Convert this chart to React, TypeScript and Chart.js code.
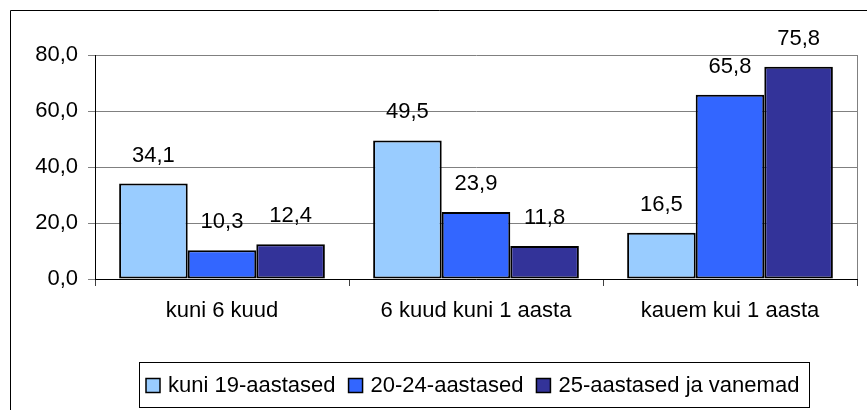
import React, { useEffect, useRef } from "react";
import { Chart, registerables } from "chart.js";

Chart.register(...registerables);

const categories = ["kuni 6 kuud", "6 kuud kuni 1 aasta", "kauem kui 1 aasta"];
const seriesNames = ["kuni 19-aastased", "20-24-aastased", "25-aastased ja vanemad"];
const seriesColors = ["#99CCFF", "#3366FF", "#333399"];
const under19 = [34.1, 49.5, 16.5];
const age20to24 = [10.3, 23.9, 65.8];
const age25plus = [12.4, 11.8, 75.8];
const yTicks = [0, 20, 40, 60, 80];

const FONT = "'Liberation Sans', Arial, sans-serif";
const FS = 22;
const fmt = (v: number) => v.toFixed(1).replace(".", ",");

const framePlugin = {
  id: "frame",
  beforeDraw(chart: any) {
    const ctx = chart.ctx;
    ctx.save();
    ctx.strokeStyle = "#000";
    ctx.lineWidth = 1;
    ctx.beginPath();
    ctx.moveTo(10.5, chart.height + 5);
    ctx.lineTo(10.5, 10.5);
    ctx.lineTo(chart.width + 5, 10.5);
    ctx.stroke();
    ctx.restore();
  },
  afterDraw(chart: any) {
    const ctx = chart.ctx;
    const a = chart.chartArea;
    ctx.save();
    ctx.strokeStyle = "#808080";
    ctx.lineWidth = 1;
    ctx.beginPath();
    ctx.moveTo(Math.round(a.right) + 0.5, a.top);
    ctx.lineTo(Math.round(a.right) + 0.5, a.bottom);
    ctx.stroke();

    // data labels
    ctx.fillStyle = "#000";
    ctx.font = `${FS}px ${FONT}`;
    ctx.textAlign = "center";
    ctx.textBaseline = "alphabetic";
    chart.data.datasets.forEach((ds: any, di: number) => {
      const meta = chart.getDatasetMeta(di);
      meta.data.forEach((el: any, i: number) => {
        ctx.fillText(fmt(ds.data[i]), el.x, el.y - 22);
      });
    });

    // legend
    const sq = 14, gapT = 8, gapItem = 13, padL = 7, padR = 10;
    const widths = chart.data.datasets.map((d: any) => ctx.measureText(d.label).width);
    let total = 0;
    widths.forEach((w: number, i: number) => {
      total += sq + gapT + w + (i < widths.length - 1 ? gapItem : 0);
    });
    const boxW = Math.round(total + padL + padR);
    const cx = 474;
    const bx = Math.round(cx - boxW / 2);
    const by = 362;
    const bh = 45;
    ctx.strokeStyle = "#000";
    ctx.lineWidth = 1;
    ctx.strokeRect(bx + 0.5, by + 0.5, boxW, bh);
    let x = bx + padL;
    const my = by + bh / 2 + 1;
    ctx.textAlign = "left";
    ctx.textBaseline = "middle";
    chart.data.datasets.forEach((d: any, i: number) => {
      ctx.fillStyle = d.backgroundColor;
      ctx.fillRect(x, my - sq / 2, sq, sq);
      ctx.strokeStyle = "#000";
      ctx.lineWidth = 1.5;
      ctx.strokeRect(x, my - sq / 2, sq, sq);
      x += sq + gapT;
      ctx.fillStyle = "#000";
      ctx.fillText(d.label, x, my);
      x += widths[i] + gapItem;
    });
    ctx.restore();
  },
};

export default function App() {
  const ref = useRef<HTMLCanvasElement>(null);
  useEffect(() => {
    document.body.style.margin = "0";
    const values = [under19, age20to24, age25plus];
    const chart = new Chart(ref.current!, {
      type: "bar",
      data: {
        labels: categories,
        datasets: seriesNames.map((n, i) => ({
          label: n,
          data: values[i],
          backgroundColor: seriesColors[i],
          borderColor: "#000",
          borderWidth: 2,
          borderSkipped: false,
          categoryPercentage: 0.81,
          barPercentage: 1,
        })),
      },
      options: {
        responsive: false,
        animation: false,
        layout: { padding: { top: 55, right: 10, left: 0, bottom: 0 } },
        plugins: { legend: { display: false }, tooltip: { enabled: false } },
        scales: {
          x: {
            offset: true,
            grid: {
              display: true,
              drawOnChartArea: false,
              offset: true,
              tickLength: 7,
              tickColor: "#404040",
            },
            border: { display: true, color: "#000", width: 1 },
            ticks: { color: "#000", font: { family: FONT, size: FS }, padding: 12, maxRotation: 0 },
            afterFit: (s: any) => {
              s.height = 131;
            },
          },
          y: {
            min: 0,
            max: 80,
            afterBuildTicks: (s: any) => {
              s.ticks = yTicks.map((v) => ({ value: v }));
            },
            grid: { color: "#808080", tickColor: "#808080", tickLength: 7 },
            border: { display: true, color: "#000", width: 1 },
            ticks: {
              color: "#000",
              font: { family: FONT, size: FS },
              padding: 10,
              callback: (v: any) => fmt(Number(v)),
            },
            afterFit: (s: any) => {
              s.width = 95;
            },
          },
        },
      },
      plugins: [framePlugin],
    });
    return () => chart.destroy();
  }, []);
  return (
    <div style={{ width: 867, height: 410 }}>
      <canvas ref={ref} width={867} height={410} />
    </div>
  );
}
